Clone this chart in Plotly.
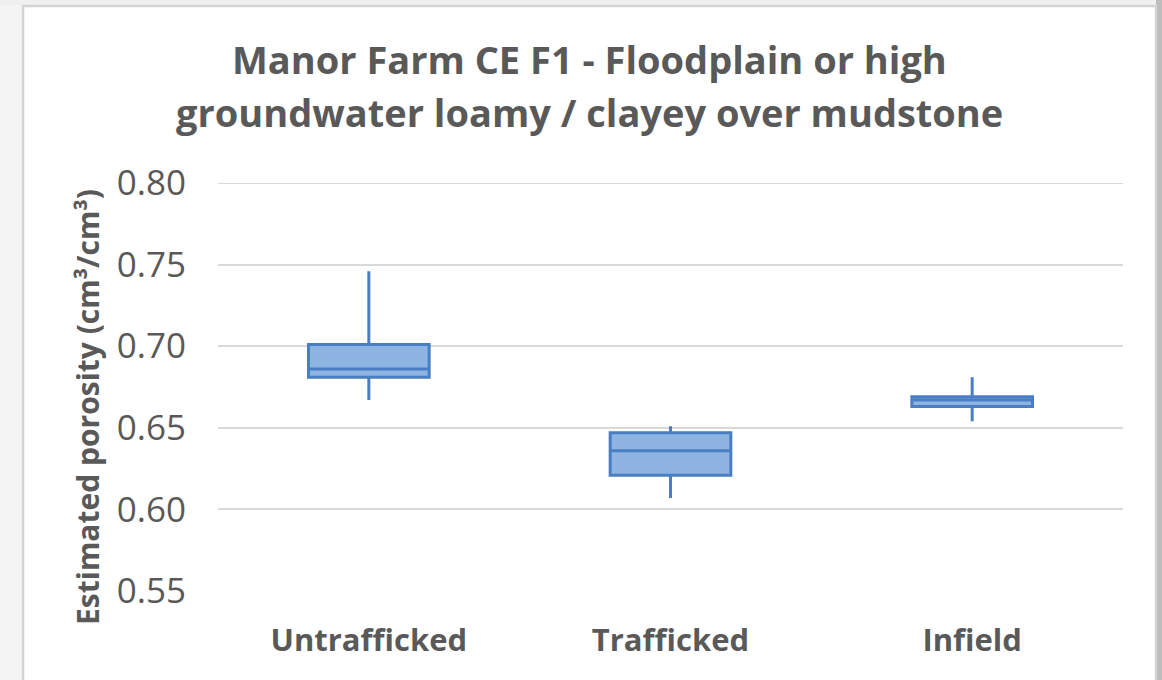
import plotly.graph_objects as go

categories = ["Untrafficked", "Trafficked", "Infield"]
lower_whisker = [0.667, 0.607, 0.654]
q1_values = [0.681, 0.621, 0.663]
median_values = [0.686, 0.636, 0.667]
q3_values = [0.701, 0.647, 0.669]
upper_whisker = [0.746, 0.651, 0.681]
y_ticks = [0.55, 0.60, 0.65, 0.70, 0.75, 0.80]
title_lines = ["Manor Farm CE F1 - Floodplain or high",
               "groundwater loamy / clayey over mudstone"]

W, H = 1162, 680
L, R, T, B = 218, 1123, 183, 591

fig = go.Figure()
fig.add_trace(go.Box(
    x=categories,
    q1=q1_values, median=median_values, q3=q3_values,
    lowerfence=lower_whisker, upperfence=upper_whisker,
    fillcolor="#8EB4E3",
    line=dict(color="#4A7EC2", width=3),
    whiskerwidth=0,
    width=0.4,
    boxpoints=False,
    hoverinfo="skip",
    showlegend=False,
))

def px_x(p):
    return (p - L) / (R - L)

def px_y(p):
    return (B - p) / (B - T)

TXT = "#595959"
FONT = "Open Sans"
GRID = "#D9D9D9"

annotations = [
    dict(text=f"<b>{title_lines[0]}</b>", xref="paper", yref="paper",
         x=px_x(589), y=px_y(59), xanchor="center", yanchor="middle",
         showarrow=False, font=dict(size=38, color=TXT, family=FONT)),
    dict(text=f"<b>{title_lines[1]}</b>", xref="paper", yref="paper",
         x=px_x(589), y=px_y(112), xanchor="center", yanchor="middle",
         showarrow=False, font=dict(size=38, color=TXT, family=FONT)),
    dict(text="<b>Estimated porosity (cm³/cm³)</b>",
         xref="paper", yref="paper",
         x=px_x(87), y=px_y(407),
         xanchor="center", yanchor="middle",
         textangle=-90, showarrow=False,
         font=dict(size=30, color=TXT, family=FONT)),
]

fig.update_layout(
    width=W, height=H,
    margin=dict(l=L, r=W - R, t=T, b=H - B, pad=0),
    paper_bgcolor="white",
    plot_bgcolor="white",
    font=dict(family=FONT, color=TXT),
    xaxis=dict(
        type="category",
        range=[-0.5, 2.5],
        showgrid=False, zeroline=False, showline=False,
        ticks="", ticklabelstandoff=28,
        tickfont=dict(size=31, color=TXT, family=FONT, weight="bold"),
    ),
    yaxis=dict(
        range=[0.55, 0.80],
        tickvals=y_ticks,
        tickformat=".2f",
        showgrid=True, gridcolor=GRID, gridwidth=2,
        zeroline=False, showline=False, ticks="",
        ticklabelstandoff=31,
        tickfont=dict(size=35, color=TXT, family=FONT),
    ),
    annotations=annotations,
    shapes=[
        dict(type="rect", xref="paper", yref="paper",
             x0=px_x(0), x1=px_x(22), y0=px_y(680), y1=px_y(0),
             fillcolor="#F4F4F4", line=dict(width=0), layer="below"),
        dict(type="rect", xref="paper", yref="paper",
             x0=px_x(0), x1=px_x(1162), y0=px_y(5), y1=px_y(0),
             fillcolor="#F0F0F0", line=dict(width=0), layer="below"),
        dict(type="rect", xref="paper", yref="paper",
             x0=px_x(1156), x1=px_x(1162), y0=px_y(680), y1=px_y(0),
             fillcolor="#BDBDBD", line=dict(width=0), layer="below"),
        dict(type="rect", xref="paper", yref="paper",
             x0=px_x(23), x1=px_x(1156), y0=px_y(690), y1=px_y(6),
             fillcolor="rgba(0,0,0,0)", line=dict(color="#D4D4D4", width=2.5)),
        dict(type="line", xref="paper", yref="y",
             x0=0, x1=1, y0=y_ticks[-1], y1=y_ticks[-1],
             line=dict(color=GRID, width=2), layer="below"),
    ],
)

fig.write_html(
    "out.html",
    config={"displayModeBar": False},
    post_script="document.body.style.margin='0';document.body.style.overflow='hidden';",
)
